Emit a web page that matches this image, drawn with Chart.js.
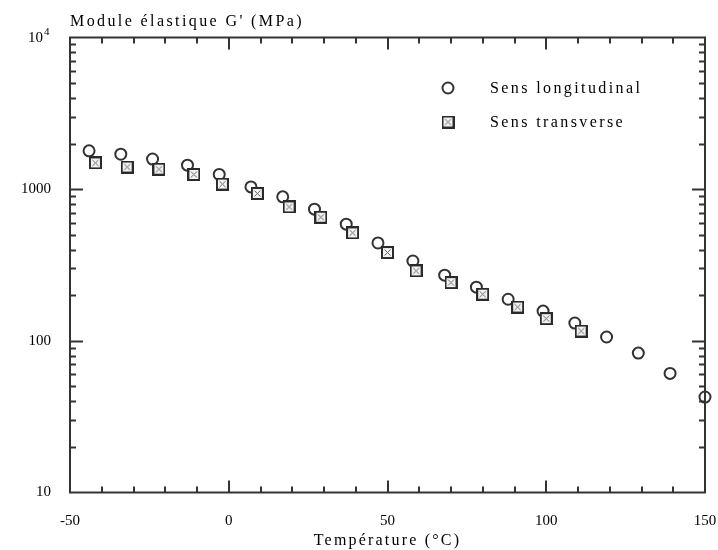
<!DOCTYPE html>
<html>
<head>
<meta charset="utf-8">
<script src="https://cdn.jsdelivr.net/npm/chart.js@4.4.0/dist/chart.umd.min.js"></script>
<style>
  body { margin: 0; background: #fff; }
  #wrap { width: 718px; height: 550px; }
</style>
</head>
<body>
<div id="wrap"><canvas id="myChart" width="718" height="550"></canvas></div>
<script>
// Values: temperature (°C) and G' (MPa)
const tempLong = [-44, -34, -24, -13, -3, 7, 17, 27, 37, 47, 58, 68, 78, 88, 99, 109, 119, 129, 139, 150];
const modLong = [1790, 1700, 1580, 1440, 1250, 1035, 890, 738, 588, 442, 336, 271, 226, 188, 157, 131, 106, 83, 61, 42.6];
const tempTrans = [-42, -32, -22, -11, -2, 9, 19, 29, 39, 50, 59, 70, 80, 91, 100, 111];
const modTrans = [1490, 1400, 1355, 1250, 1080, 937, 764, 653, 515, 382, 289, 242, 203, 167, 140, 116];

const xMajor = [-50, 0, 50, 100, 150];
const yMajor = [10, 100, 1000, 10000];
const seriesNames = ['Sens longitudinal', 'Sens transverse'];

const AXIS = '#333';
const SERIF = '"Liberation Serif", "Times New Roman", serif';

// little square with a cross in it, used as the point style of the transverse series
const makeCrossSquare = () => {
    const c = document.createElement('canvas');
    c.width = 13;
    c.height = 13;
    const g = c.getContext('2d');
    g.fillStyle = '#f2f2f2';
    g.fillRect(1, 1, 11, 11);
    g.strokeStyle = '#666';
    g.lineWidth = 1;
    g.beginPath();
    g.moveTo(3.5, 3.5); g.lineTo(9.5, 9.5);
    g.moveTo(9.5, 3.5); g.lineTo(3.5, 9.5);
    g.stroke();
    g.strokeStyle = '#2a2a2a';
    g.lineWidth = 2;
    g.strokeRect(1, 1, 11, 11);
    return c;
};
const crossSquare = makeCrossSquare();

const spacedText = (ctx, text, x, y, spacing) => {
    ctx.letterSpacing = spacing + 'px';
    ctx.fillText(text, x, y);
    ctx.letterSpacing = '0px';
};

// box around the plot with inward ticks on all four sides
const framePlugin = {
    id: 'frame',
    afterDatasetsDraw(chart) {
        const {ctx, chartArea: a, scales: {x, y}} = chart;
        ctx.save();
        ctx.strokeStyle = AXIS;
        ctx.lineWidth = 2;
        ctx.strokeRect(a.left, a.top, a.right - a.left, a.bottom - a.top);
        ctx.beginPath();
        for (let t = x.min; t <= x.max; t += 10) {
            const px = Math.round(x.getPixelForValue(t));
            const len = xMajor.includes(t) ? 12 : 6;
            ctx.moveTo(px, a.bottom); ctx.lineTo(px, a.bottom - len);
            ctx.moveTo(px, a.top); ctx.lineTo(px, a.top + len);
        }
        for (let d = 10; d < 10000; d *= 10) {
            for (let k = 1; k <= 9; k++) {
                if (k === 1 && d === 10) continue;
                const py = Math.round(y.getPixelForValue(k * d)) + 0.5;
                const len = k === 1 ? 13 : 6;
                ctx.moveTo(a.left, py); ctx.lineTo(a.left + len, py);
                ctx.moveTo(a.right, py); ctx.lineTo(a.right - len, py);
            }
        }
        ctx.stroke();
        ctx.restore();
    },
    afterDraw(chart) {
        const {ctx, chartArea: a, scales: {x, y}} = chart;
        ctx.save();
        ctx.fillStyle = '#000';
        ctx.textBaseline = 'alphabetic';
        ctx.textAlign = 'left';
        ctx.font = '16px ' + SERIF;
        spacedText(ctx, "Module élastique G' (MPa)", a.left, 26, 2.4);

        // 10^4 label of the top tick
        const topY = y.getPixelForValue(10000);
        ctx.font = '15px ' + SERIF;
        ctx.textAlign = 'right';
        ctx.fillText('10', 43, topY + 4);
        ctx.font = '11px ' + SERIF;
        ctx.textAlign = 'left';
        ctx.fillText('4', 44, topY - 3);

        // legend
        ctx.beginPath();
        ctx.arc(448, 88, 5.5, 0, Math.PI * 2);
        ctx.fillStyle = '#fff';
        ctx.fill();
        ctx.strokeStyle = AXIS;
        ctx.lineWidth = 2;
        ctx.stroke();
        ctx.drawImage(crossSquare, 448 - 6.5, 122 - 6.5);
        ctx.fillStyle = '#000';
        ctx.font = '16px ' + SERIF;
        spacedText(ctx, seriesNames[0], 490, 93, 2.4);
        spacedText(ctx, seriesNames[1], 490, 127, 2.4);

        // x axis title
        ctx.textAlign = 'center';
        spacedText(ctx, 'Température (°C)', x.getPixelForValue(50), 545, 2.2);
        ctx.restore();
    }
};

const ctx = document.getElementById('myChart').getContext('2d');
const myChart = new Chart(ctx, {
    type: 'scatter',
    data: {
        datasets: [{
            label: seriesNames[0],
            data: tempLong.map((t, i) => ({x: t, y: modLong[i]})),
            pointStyle: 'circle',
            pointRadius: 5.5,
            borderWidth: 2,
            borderColor: AXIS,
            backgroundColor: '#fff',
            order: 2,
            clip: false
        }, {
            label: seriesNames[1],
            data: tempTrans.map((t, i) => ({x: t, y: modTrans[i]})),
            pointStyle: crossSquare,
            pointRadius: 6,
            order: 1,
            clip: false
        }]
    },
    options: {
        responsive: false,
        animation: false,
        events: [],
        layout: {padding: {top: 37.5, right: 13, left: 0, bottom: 0}},
        plugins: {
            legend: {display: false},
            tooltip: {enabled: false}
        },
        scales: {
            x: {
                type: 'linear',
                min: -50,
                max: 150,
                afterBuildTicks: s => { s.ticks = xMajor.map(v => ({value: v})); },
                afterFit: s => {
                    s.height = 57.5;
                    s.paddingLeft = 0;
                    s.paddingRight = 0;
                },
                grid: {display: false, drawTicks: false},
                border: {display: false},
                ticks: {
                    font: {family: SERIF, size: 15},
                    color: '#000',
                    padding: 20,
                    maxRotation: 0,
                    autoSkip: false
                }
            },
            y: {
                type: 'logarithmic',
                min: 10,
                max: 10000,
                afterBuildTicks: s => { s.ticks = yMajor.map(v => ({value: v})); },
                afterFit: s => {
                    s.width = 70;
                    s.paddingTop = 0;
                    s.paddingBottom = 0;
                },
                grid: {display: false, drawTicks: false},
                border: {display: false},
                ticks: {
                    callback: v => v === 10000 ? '' : String(v),
                    font: {family: SERIF, size: 15},
                    color: '#000',
                    padding: 19,
                    autoSkip: false
                }
            }
        }
    },
    plugins: [framePlugin]
});
</script>
</body>
</html>
